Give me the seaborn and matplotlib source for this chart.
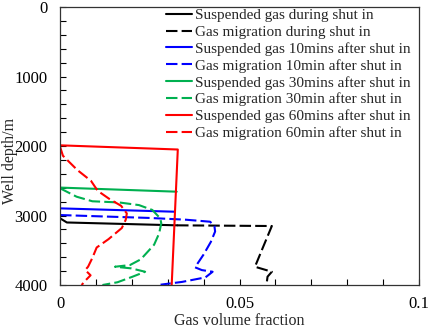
import matplotlib
matplotlib.use("Agg")
import matplotlib.pyplot as plt
import seaborn as sns
import pandas as pd
from matplotlib.ticker import MultipleLocator, FixedLocator

sns.set_style("ticks")
plt.rcParams['font.family'] = ['Liberation Serif', 'DejaVu Serif']

# ---- data (x = gas volume fraction, y = well depth / m) ----
susp0_x = [0.0, 0.0019, 0.0326]
susp0_y = [3040, 3100, 3141]
mig0_x = [0.0326, 0.0590, 0.0566, 0.0543, 0.0590, 0.0578, 0.0575]
mig0_y = [3141, 3151, 3449, 3737, 3809, 3880, 4000]

susp10_x = [0.0, 0.0318]
susp10_y = [2897, 2945]
mig10_x = [0.0, 0.010, 0.025, 0.035, 0.0418, 0.0430, 0.0432, 0.0420, 0.0400, 0.0376, 0.0395, 0.0425, 0.0405, 0.0340, 0.0280]
mig10_y = [2993, 3010, 3035, 3060, 3089, 3150, 3230, 3380, 3560, 3745, 3785, 3809, 3890, 3955, 3995]

susp30_x = [0.0, 0.0325]
susp30_y = [2598, 2657]
mig30_x = [0.0, 0.0046, 0.0090, 0.0165, 0.0220, 0.0257, 0.0279, 0.0282, 0.0276, 0.0262, 0.0225, 0.0195, 0.0153, 0.0198, 0.0237, 0.0202, 0.0160, 0.0118]
mig30_y = [2608, 2729, 2795, 2812, 2850, 2920, 3040, 3112, 3257, 3420, 3630, 3712, 3737, 3760, 3809, 3880, 3960, 4000]

susp60_x = [0.0, 0.0328, 0.0311]
susp60_y = [1990, 2050, 4000]
mig60_x = [0.0, 0.0008, 0.0048, 0.0086, 0.0105, 0.0137, 0.0170, 0.0186, 0.0183, 0.0172, 0.0135, 0.0102, 0.0090, 0.0078, 0.0070, 0.0085, 0.0072, 0.0060]
mig60_y = [2010, 2140, 2345, 2500, 2645, 2760, 2860, 2970, 3060, 3180, 3340, 3460, 3610, 3737, 3784, 3860, 3928, 4000]

labels = ["Suspended gas during shut in", "Gas migration during shut in",
          "Suspended gas 10mins after shut in", "Gas migration 10min after shut in",
          "Suspended gas 30mins after shut in", "Gas migration 30min after shut in",
          "Suspended gas 60mins after shut in", "Gas migration 60min after shut in"]
series = [(susp0_x, susp0_y), (mig0_x, mig0_y), (susp10_x, susp10_y), (mig10_x, mig10_y),
          (susp30_x, susp30_y), (mig30_x, mig30_y), (susp60_x, susp60_y), (mig60_x, mig60_y)]
colors = ["#000000", "#000000", "#0000FF", "#0000FF", "#00B050", "#00B050", "#FF0000", "#FF0000"]

fig = plt.figure(figsize=(4.29, 3.28), dpi=100)
ax = fig.add_axes([0.14, 0.131, 0.8367, 0.8476])

for i, ((xs, ys), lab, col) in enumerate(zip(series, labels, colors)):
    df = pd.DataFrame({"x": xs, "y": ys})
    ls = "-" if i % 2 == 0 else (0, (5.5, 2))
    sns.lineplot(data=df, x="x", y="y", sort=False, estimator=None, ax=ax,
                 color=col, linewidth=1.5, linestyle=ls, label=lab)

ax.set_xlim(0, 0.1)
ax.set_ylim(4000, 0)
ax.xaxis.set_major_locator(FixedLocator([0, 0.05, 0.1]))
ax.xaxis.set_minor_locator(MultipleLocator(0.01))
ax.yaxis.set_major_locator(MultipleLocator(1000))
ax.yaxis.set_minor_locator(MultipleLocator(200))
ax.set_xticklabels(["0", "0.05", "0.1"])
ax.tick_params(axis="both", which="both", direction="in", length=4, width=0.8,
               labelsize=12, colors="#000000")
ax.tick_params(axis="x", which="major", pad=8)
ax.tick_params(axis="y", which="major", pad=9)
for s in ax.spines.values():
    s.set_visible(True)
    s.set_color("#333333")
    s.set_linewidth(0.9)

ax.set_xlabel("Gas volume fraction", fontsize=11.5, labelpad=0.5)
ax.set_ylabel("Well depth/m", fontsize=11.5)
ax.yaxis.set_label_coords(-0.116, 0.445)

leg = ax.legend(loc="upper right", frameon=False, fontsize=11, handlelength=1.75,
                handletextpad=0.2, labelspacing=0.2, borderaxespad=0.0, borderpad=0.1,
                bbox_to_anchor=(0.982, 1.0))

fig.savefig("out.png", dpi=100)
